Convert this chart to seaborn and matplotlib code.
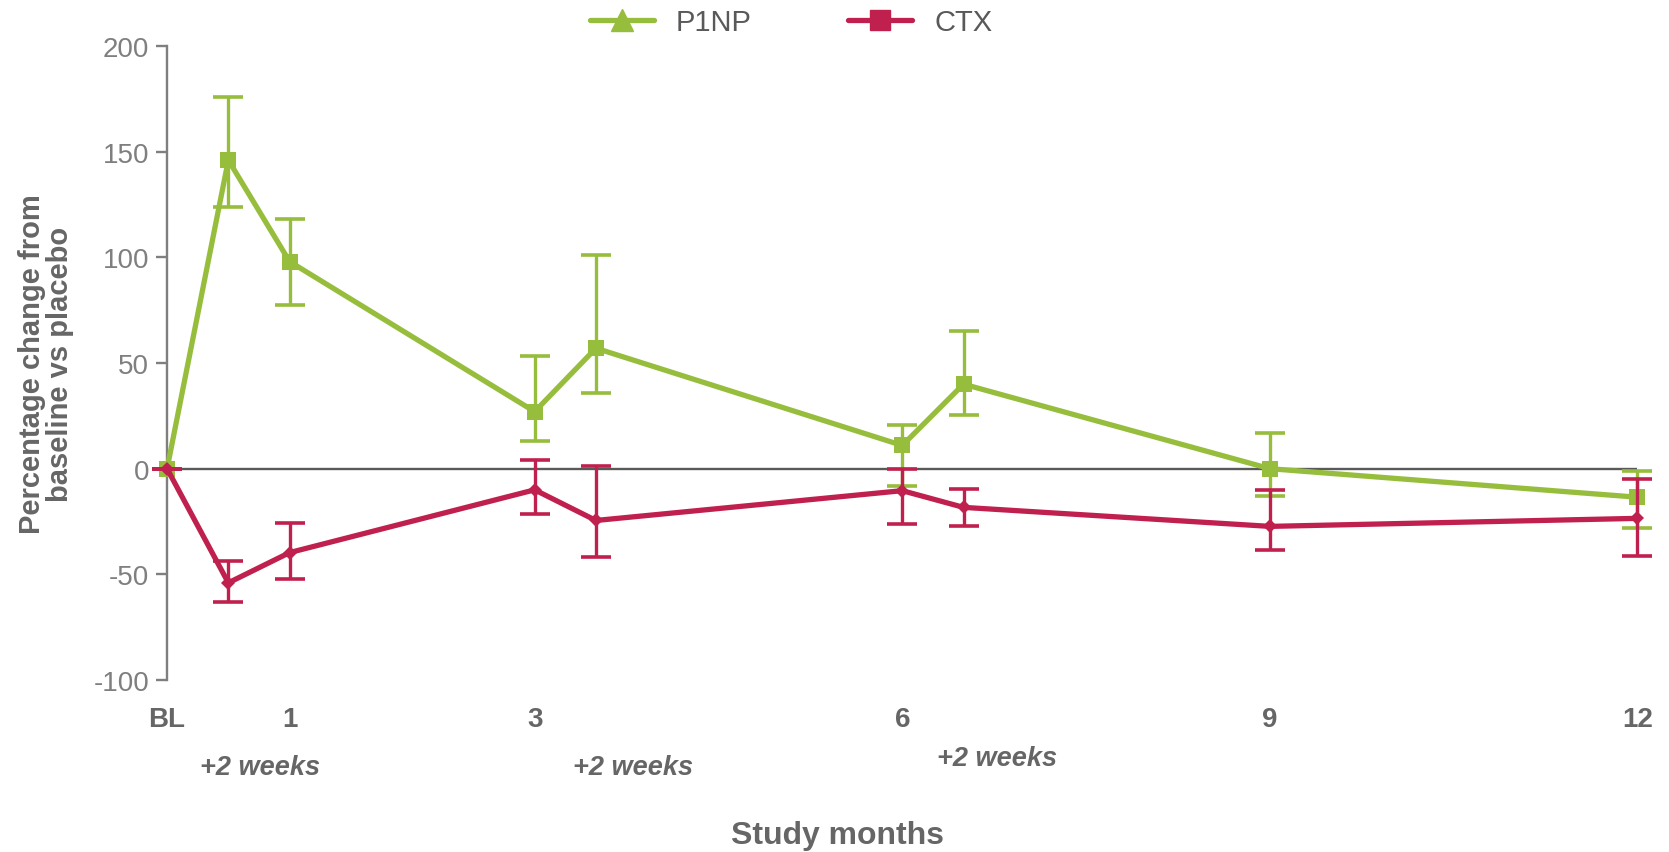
import matplotlib
matplotlib.use('Agg')
import matplotlib.pyplot as plt
from matplotlib.lines import Line2D
import pandas as pd
import seaborn as sns

# study time in months (BL = 0, "+2 weeks" = +0.5)
months = [0, 0.5, 1, 3, 3.5, 6, 6.5, 9, 12]
tick_pos = [0, 1, 3, 6, 9, 12]
tick_labels = ['BL', '1', '3', '6', '9', '12']

p1np = [0, 146, 98, 27, 57, 11, 40, 0, -13.5]
p1np_hi = [0, 176, 118, 53.5, 101, 20.7, 65.3, 16.9, -1.1]
p1np_lo = [0, 124, 77.5, 13, 36, -8.3, 25.4, -13, -28]

ctx = [0, -54, -39.7, -10, -24.5, -10.4, -18.3, -27.3, -23.5]
ctx_hi = [0, -43.8, -25.9, 4, 1.5, 0, -9.6, -10.1, -4.9]
ctx_lo = [0, -63.3, -52.3, -21.5, -42, -26.2, -27.3, -38.3, -41.4]

green = '#97bd3d'
red = '#c0204d'
grey = '#7f7f7f'
dark = '#666666'

sns.set_theme(style='white')
plt.rcParams['font.family'] = ['Liberation Sans', 'DejaVu Sans']
plt.rcParams['axes.unicode_minus'] = False

df = pd.DataFrame({'month': months + months,
                   'value': p1np + ctx,
                   'marker': ['P1NP'] * len(months) + ['CTX'] * len(months)})

fig = plt.figure(figsize=(16.69, 8.53), dpi=100)
ax = fig.add_axes([0.1001, 0.2016, 0.881, 0.7433])

# zero line
ax.plot([0, 12], [0, 0], color='#595959', lw=1.7, zorder=1)

series = [('P1NP', p1np, p1np_hi, p1np_lo, green, 's', 11),
          ('CTX', ctx, ctx_hi, ctx_lo, red, 'D', 7.5)]
for name, vals, hi, lo, col, mk, ms in series:
    sub = df[df['marker'] == name]
    sns.lineplot(data=sub, x='month', y='value', ax=ax, color=col, lw=3.8,
                 marker=mk, markersize=ms, markeredgewidth=0, clip_on=False,
                 zorder=3)
    err = [[v - l for v, l in zip(vals, lo)], [h - v for v, h in zip(vals, hi)]]
    ax.errorbar(months, vals, yerr=err, fmt='none', ecolor=col, elinewidth=2.4,
                capsize=10.5, capthick=2.6, clip_on=False, zorder=3)

ax.set_xlim(0, 12)
ax.set_ylim(-100, 200)
ax.set_yticks(range(-100, 201, 50))
ax.set_xticks(tick_pos)
ax.set_xticklabels(tick_labels, fontweight='bold', color=dark, fontsize=20)
ax.tick_params(axis='x', length=0, pad=19)
ax.tick_params(axis='y', length=8, width=1.7, color=grey, labelcolor=grey,
               labelsize=20, pad=5, left=True)
for lab in ax.get_yticklabels():
    lab.set_color(grey)

sns.despine(ax=ax, bottom=True)
ax.spines['left'].set_color(grey)
ax.spines['left'].set_linewidth(1.7)
ax.set_xlabel('')
ax.set_ylabel('Percentage change from\nbaseline vs placebo', fontsize=21,
              fontweight='bold', color=dark, labelpad=14, linespacing=1.0)

# "+2 weeks" notes under the axis
for xpos, ypos in [(0.76, -141), (3.8, -141), (6.77, -137)]:
    ax.text(xpos, ypos, '+2 weeks', ha='center', va='center', fontsize=19.5,
            fontweight='bold', fontstyle='italic', color=dark, clip_on=False)

fig.text(0.5015, 0.02, 'Study months', ha='center', va='center', fontsize=23,
         fontweight='bold', color=dark)

handles = [Line2D([0], [0], color=green, lw=3.8, marker='^', markersize=16),
           Line2D([0], [0], color=red, lw=3.8, marker='s', markersize=15)]
leg = fig.legend(handles, ['P1NP', 'CTX'], loc='upper center',
                 bbox_to_anchor=(0.474, 1.02), ncol=2, frameon=False,
                 fontsize=21, handlelength=2.2, handletextpad=0.75,
                 columnspacing=3.3)
for t in leg.get_texts():
    t.set_color('#595959')

fig.savefig('out.png', dpi=100)
